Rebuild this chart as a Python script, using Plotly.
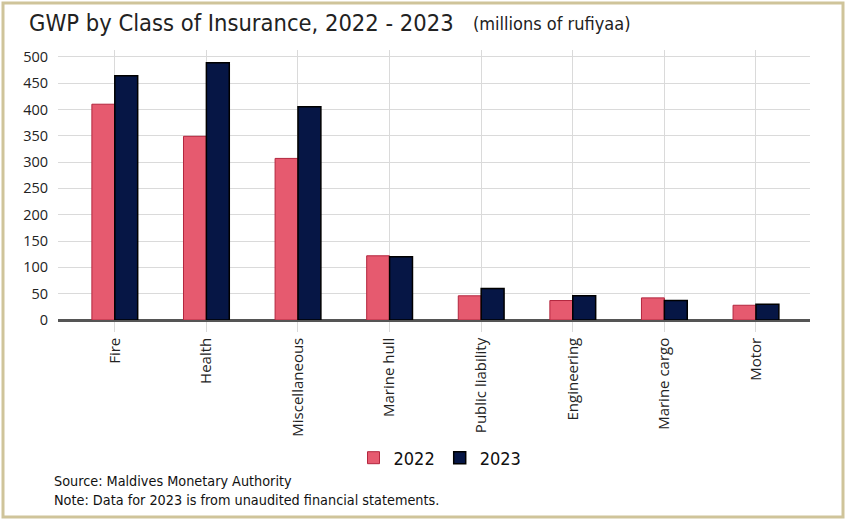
import plotly.graph_objects as go

categories = ["Fire", "Health", "Miscellaneous", "Marine hull", "Public liability",
              "Engineering", "Marine cargo", "Motor"]
values_2022 = [410, 349, 307, 122, 46, 37, 42, 28]
values_2023 = [464, 489, 405, 120, 60, 46, 37, 30]
y_ticks = [0, 50, 100, 150, 200, 250, 300, 350, 400, 450, 500]

W, H = 846, 520
L, R, T, B = 58, 36, 50, 200
pw, ph = W - L - R, H - T - B

def px(x):
    return (x - L) / pw

def py(y):
    return 1 - (y - T) / ph

FONT = "DejaVu Sans Condensed, Liberation Sans Narrow, Roboto, sans-serif"
TICKFONT = "Open Sans, DejaVu Sans, sans-serif"

fig = go.Figure()
fig.add_trace(go.Bar(x=categories, y=values_2022, name="2022",
                     marker=dict(color="#E65A6F", line=dict(color="#B3263E", width=1))))
fig.add_trace(go.Bar(x=categories, y=values_2023, name="2023",
                     marker=dict(color="#061645", line=dict(color="#000000", width=1.5))))

fig.update_layout(
    width=W, height=H,
    margin=dict(l=L, r=R, t=T, b=B),
    paper_bgcolor="white", plot_bgcolor="white",
    barmode="group", bargap=0.5, bargroupgap=0,
    font=dict(family=FONT, color="#222222", size=13),
    showlegend=True,
    legend=dict(orientation="h", x=px(440), y=py(458), xanchor="center", yanchor="middle",
                font=dict(size=18, family=FONT, color="#111111"), itemwidth=30,
                traceorder="normal"),
    xaxis=dict(range=[-0.62, 7.59], showgrid=True, gridcolor="#DADADA", gridwidth=1,
               tickangle=-90, ticks="outside", ticklen=10, tickcolor="#DADADA",
               showline=True, linecolor="#555555", linewidth=1.5,
               tickfont=dict(family=TICKFONT, size=15, color="#222222")),
    yaxis=dict(range=[0, 513], tickvals=y_ticks, showgrid=True, gridcolor="#DADADA",
               gridwidth=1, zeroline=True, zerolinecolor="#555555", zerolinewidth=1.5,
               showline=False, ticks="", ticklabelstandoff=9,
               tickfont=dict(family=TICKFONT, size=14.5, color="#222222")),
)

fig.add_annotation(xref="paper", yref="paper", x=px(27), y=py(23), xanchor="left", yanchor="middle",
                   text="GWP by Class of Insurance, 2022 - 2023", showarrow=False,
                   font=dict(family=FONT, size=23.5, color="#222222"))
fig.add_annotation(xref="paper", yref="paper", x=px(471), y=py(24), xanchor="left", yanchor="middle",
                   text="(millions of rufiyaa)", showarrow=False,
                   font=dict(family=FONT, size=18, color="#222222"))
fig.add_annotation(xref="paper", yref="paper", x=px(52), y=py(490), xanchor="left", yanchor="middle",
                   text="Source: Maldives Monetary Authority<br>Note: Data for 2023 is from unaudited financial statements.",
                   align="left", showarrow=False,
                   font=dict(family=FONT, size=14.3, color="#111111"))

fig.add_shape(type="rect", xref="paper", yref="paper",
              x0=px(3), x1=px(843), y0=py(517), y1=py(3),
              line=dict(color="#CFC49A", width=3), fillcolor="rgba(0,0,0,0)", layer="above")

fig.write_html("out.html", config={"displayModeBar": False},
               post_script="document.body.style.margin='0';document.body.style.padding='0';")
